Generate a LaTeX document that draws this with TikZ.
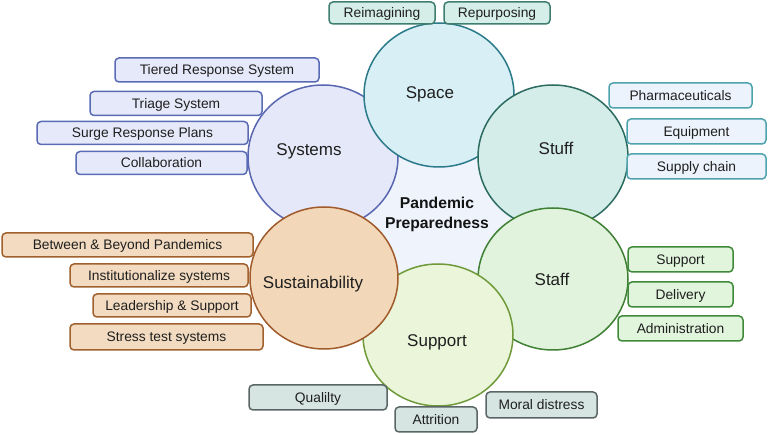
\documentclass[tikz,border=0pt]{standalone}
\usepackage{fontspec}
\setmainfont{Liberation Sans}
\usetikzlibrary{shapes.geometric}
\definecolor{bgc}{HTML}{EEF3FC}
\definecolor{spaceF}{HTML}{D9EFF6}\definecolor{spaceD}{HTML}{2B7A8A}
\definecolor{sysF}{HTML}{E5E8F8}\definecolor{sysD}{HTML}{5967B0}
\definecolor{stuffF}{HTML}{D5EDE9}\definecolor{stuffD}{HTML}{2B6B60}
\definecolor{staffF}{HTML}{E1F3DC}\definecolor{staffD}{HTML}{3F8035}
\definecolor{suppF}{HTML}{EBF5DA}\definecolor{suppD}{HTML}{6F9A3A}
\definecolor{sustF}{HTML}{F2D8B8}\definecolor{sustD}{HTML}{A05A2C}
\definecolor{topF}{HTML}{D6EEE8}\definecolor{topD}{HTML}{3E7E70}
\definecolor{sysbF}{HTML}{E6E9F9}\definecolor{sysbD}{HTML}{5A6BB5}
\definecolor{stfbF}{HTML}{ECF3FC}\definecolor{stfbD}{HTML}{4FA3AD}
\definecolor{susbF}{HTML}{F2DBC0}\definecolor{susbD}{HTML}{A0612E}
\definecolor{stabF}{HTML}{E1F4DC}\definecolor{stabD}{HTML}{3F8A3A}
\definecolor{supbF}{HTML}{D6E5E2}\definecolor{supbD}{HTML}{5A6665}
\begin{document}
\begin{tikzpicture}[x=1pt,y=-1pt,
  circ/.style={ellipse,draw,line width=1.5pt,minimum width=150pt,minimum height=144pt,inner sep=0pt},
  clab/.style={font=\fontsize{17}{19}\selectfont,text=black!88,text height=12.2pt,text depth=0pt,inner sep=0pt},
  bx/.style={draw,rounded corners=4pt,line width=1.5pt,inner sep=0pt,font=\fontsize{13.8}{15}\selectfont,text=black!88,text height=9.9pt,text depth=0pt},
]
\useasboundingbox (0,0) rectangle (769,435);
\fill[bgc] (438,217) circle[radius=122pt];
% circles in drawing order
\node[circ,draw=sysD,fill=sysF] (systems) at (323,157) {};
\node[circ,draw=spaceD,fill=spaceF] (space) at (439,95) {};
\node[circ,draw=stuffD,fill=stuffF] (stuff) at (553,157) {};
\node[circ,draw=staffD,fill=staffF,minimum height=142pt] (staff) at (553,279) {};
\node[circ,draw=suppD,fill=suppF,minimum height=142pt] (support) at (438,335) {};
\node[circ,draw=sustD,fill=sustF,minimum width=148pt,minimum height=142pt] (sust) at (324,278) {};
% circle labels
\node[clab] (lspace) at (430,92) {Space};
\node[clab] (lsys) at (309,149) {Systems};
\node[clab] (lstuff) at (556,148) {Stuff};
\node[clab] (lstaff) at (552,279) {Staff};
\node[clab] (lsust) at (313,282) {Sustainability};
\node[clab] (lsupp) at (437,340) {Support};
\node[font=\bfseries\fontsize{15.7}{20}\selectfont,align=center,text=black!92] (center) at (437,214) {Pandemic\\Preparedness};
% Space boxes
\node[bx,draw=topD,fill=topF,minimum width=106pt,minimum height=22pt] (b1) at (382,13) {Reimagining};
\node[bx,draw=topD,fill=topF,minimum width=106pt,minimum height=22pt] (b2) at (497,13) {Repurposing};
% Systems boxes
\node[bx,draw=sysbD,fill=sysbF,minimum width=204pt,minimum height=24pt] (s1) at (217,70) {Tiered Response System};
\node[bx,draw=sysbD,fill=sysbF,minimum width=172pt,minimum height=24pt] (s2) at (176,103.5) {Triage System};
\node[bx,draw=sysbD,fill=sysbF,minimum width=211pt,minimum height=23pt] (s3) at (142.5,133) {Surge Response Plans};
\node[bx,draw=sysbD,fill=sysbF,minimum width=171pt,minimum height=23pt] (s4) at (161.5,163) {Collaboration};
% Stuff boxes
\node[bx,draw=stfbD,fill=stfbF,minimum width=143pt,minimum height=25pt] (t1) at (680.5,95.5) {Pharmaceuticals};
\node[bx,draw=stfbD,fill=stfbF,minimum width=139pt,minimum height=25pt] (t2) at (696.5,131.5) {Equipment};
\node[bx,draw=stfbD,fill=stfbF,minimum width=139pt,minimum height=25pt] (t3) at (696.5,166.5) {Supply chain};
% Sustainability boxes
\node[bx,draw=susbD,fill=susbF,minimum width=251pt,minimum height=24pt] (u1) at (127.5,245) {Between \& Beyond Pandemics};
\node[bx,draw=susbD,fill=susbF,minimum width=178pt,minimum height=23pt] (u2) at (159,275.5) {Institutionalize systems};
\node[bx,draw=susbD,fill=susbF,minimum width=158pt,minimum height=23pt] (u3) at (172,305.5) {Leadership \& Support};
\node[bx,draw=susbD,fill=susbF,minimum width=193pt,minimum height=26pt] (u4) at (166.5,337) {Stress test systems};
% Staff boxes
\node[bx,draw=stabD,fill=stabF,minimum width=105pt,minimum height=25pt] (f1) at (680.5,259.5) {Support};
\node[bx,draw=stabD,fill=stabF,minimum width=105pt,minimum height=25pt] (f2) at (680.5,294.5) {Delivery};
\node[bx,draw=stabD,fill=stabF,minimum width=125pt,minimum height=25pt] (f3) at (680.5,328.5) {Administration};
% Support boxes
\node[bx,draw=supbD,fill=supbF,minimum width=138pt,minimum height=25pt] (p1) at (318,397.5) {Qualilty};
\node[bx,draw=supbD,fill=supbF,minimum width=82pt,minimum height=25pt] (p2) at (436,419.5) {Attrition};
\node[bx,draw=supbD,fill=supbF,minimum width=111pt,minimum height=26pt] (p3) at (541.5,405) {Moral distress};
\end{tikzpicture}
\end{document}
